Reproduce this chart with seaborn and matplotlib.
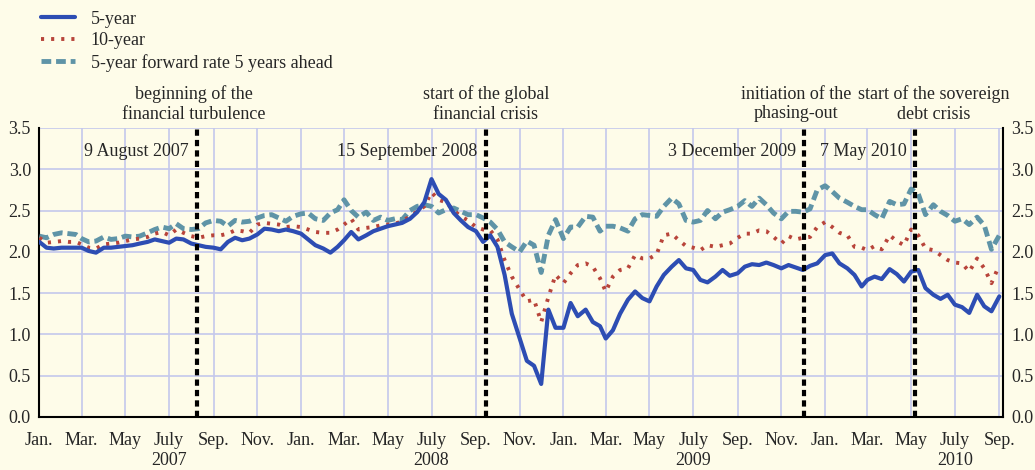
import pandas as pd
import matplotlib.pyplot as plt
import matplotlib.dates as mdates
import seaborn as sns


# Tarihler: her ayın 1., 11. ve 21. günü (Ocak 2007 - Eylül 2010)
days = [pd.Timestamp(y, m, d) for y in range(2007, 2011) for m in range(1, 13) for d in (1, 11, 21)]
dates = [t for t in days if t <= pd.Timestamp('2010-09-01')]

# 5 yıllık getiri
five_year = [2.12, 2.05, 2.04, 2.05, 2.05, 2.05, 2.05, 2.01, 1.99, 2.05, 2.05, 2.06,
             2.07, 2.08, 2.10, 2.12, 2.15, 2.13, 2.11, 2.16, 2.15, 2.10, 2.08, 2.06,
             2.05, 2.03, 2.12, 2.17, 2.14, 2.16, 2.21, 2.28, 2.27, 2.25, 2.27, 2.25,
             2.22, 2.15, 2.08, 2.04, 1.99, 2.06, 2.14, 2.24, 2.15, 2.20, 2.25, 2.28,
             2.31, 2.33, 2.35, 2.40, 2.48, 2.60, 2.88, 2.70, 2.63, 2.47, 2.38, 2.30,
             2.25, 2.12, 2.20, 2.06, 1.72, 1.25, 0.95, 0.68, 0.62, 0.40, 1.30, 1.08,
             1.08, 1.38, 1.22, 1.30, 1.15, 1.10, 0.95, 1.05, 1.25, 1.42, 1.52, 1.44,
             1.40, 1.58, 1.72, 1.82, 1.90, 1.80, 1.78, 1.66, 1.63, 1.70, 1.78, 1.71,
             1.74, 1.82, 1.85, 1.84, 1.87, 1.84, 1.80, 1.84, 1.81, 1.78, 1.83, 1.86,
             1.96, 1.98, 1.86, 1.80, 1.72, 1.58, 1.66, 1.70, 1.67, 1.79, 1.73, 1.64,
             1.76, 1.78, 1.56, 1.48, 1.43, 1.48, 1.36, 1.33, 1.26, 1.48, 1.34, 1.28,
             1.46]

# 10 yıllık getiri
ten_year = [2.17, 2.11, 2.12, 2.13, 2.12, 2.12, 2.09, 2.05, 2.04, 2.09, 2.10, 2.11,
            2.13, 2.15, 2.16, 2.18, 2.22, 2.24, 2.20, 2.27, 2.23, 2.19, 2.17, 2.19,
            2.20, 2.20, 2.22, 2.26, 2.25, 2.23, 2.33, 2.35, 2.34, 2.33, 2.30, 2.31,
            2.30, 2.27, 2.24, 2.23, 2.23, 2.27, 2.33, 2.40, 2.27, 2.29, 2.30, 2.32,
            2.33, 2.34, 2.37, 2.43, 2.49, 2.55, 2.72, 2.63, 2.60, 2.50, 2.43, 2.38,
            2.30, 2.27, 2.26, 2.15, 1.90, 1.70, 1.54, 1.40, 1.42, 1.15, 1.45, 1.72,
            1.62, 1.74, 1.84, 1.86, 1.82, 1.68, 1.52, 1.70, 1.78, 1.80, 1.96, 1.92,
            1.92, 1.97, 2.20, 2.22, 2.14, 2.07, 2.05, 2.02, 2.08, 2.06, 2.08, 2.10,
            2.17, 2.22, 2.22, 2.26, 2.25, 2.18, 2.10, 2.19, 2.15, 2.17, 2.18, 2.30,
            2.36, 2.30, 2.23, 2.20, 2.06, 2.05, 2.02, 2.07, 2.03, 2.20, 2.13, 2.08,
            2.27, 2.20, 2.04, 2.02, 1.96, 1.90, 1.87, 1.86, 1.76, 1.92, 1.80, 1.62,
            1.84]

# 5 yıl sonrası için 5 yıllık forward faiz
forward = [2.19, 2.17, 2.21, 2.23, 2.22, 2.21, 2.16, 2.12, 2.13, 2.18, 2.15, 2.16,
           2.19, 2.18, 2.19, 2.23, 2.27, 2.30, 2.28, 2.34, 2.28, 2.27, 2.28, 2.35,
           2.38, 2.37, 2.31, 2.38, 2.36, 2.37, 2.41, 2.44, 2.45, 2.41, 2.37, 2.43,
           2.46, 2.47, 2.40, 2.38, 2.47, 2.51, 2.63, 2.50, 2.42, 2.48, 2.38, 2.42,
           2.38, 2.40, 2.39, 2.50, 2.55, 2.57, 2.55, 2.47, 2.51, 2.53, 2.49, 2.45,
           2.45, 2.41, 2.36, 2.27, 2.12, 2.06, 2.00, 2.13, 2.08, 1.75, 2.20, 2.39,
           2.16, 2.30, 2.30, 2.43, 2.42, 2.25, 2.31, 2.31, 2.29, 2.25, 2.40, 2.45,
           2.44, 2.43, 2.55, 2.65, 2.58, 2.38, 2.36, 2.38, 2.50, 2.40, 2.48, 2.51,
           2.55, 2.62, 2.55, 2.65, 2.57, 2.47, 2.40, 2.49, 2.49, 2.48, 2.52, 2.75,
           2.80, 2.73, 2.65, 2.60, 2.55, 2.51, 2.51, 2.45, 2.40, 2.61, 2.57, 2.58,
           2.76, 2.70, 2.45, 2.57, 2.49, 2.44, 2.37, 2.40, 2.33, 2.42, 2.32, 2.03,
           2.20]

# Olaylar ve etiketleri
event_dates = ['2007-08-09', '2008-09-15', '2009-12-03', '2010-05-07']
event_labels = ['9 August 2007', '15 September 2008', '3 December 2009', '7 May 2010']
event_titles = ['beginning of the\nfinancial turbulence', 'start of the global\nfinancial crisis',
                'initiation of the\nphasing-out', 'start of the sovereign\ndebt crisis']
title_dates = ['2007-08-04', '2008-09-15', '2009-11-21', '2010-06-02']

month_names = {1: 'Jan.', 3: 'Mar.', 5: 'May', 7: 'July', 9: 'Sep.', 11: 'Nov.'}
years = [2007, 2008, 2009, 2010]

bg = '#fefce9'
grid_color = '#c4c8ec'

sns.set_style('white')
plt.rcParams['font.family'] = ['Liberation Serif', 'DejaVu Serif']
plt.rcParams['font.size'] = 13

# Grafik
fig = plt.figure(figsize=(10.35, 4.7), facecolor=bg)
ax = fig.add_axes([0.038, 0.1128, 0.931, 0.615], facecolor=bg)

sns.lineplot(x=dates, y=forward, color='#5f94a7', linewidth=3.5, linestyle=(0, (2, 1)),
             label='5-year forward rate 5 years ahead', ax=ax, zorder=3)
sns.lineplot(x=dates, y=ten_year, color='#b8443a', linewidth=2.8, linestyle=(0, (0.8, 1.8)),
             label='10-year', ax=ax, zorder=4)
sns.lineplot(x=dates, y=five_year, color='#2d4db3', linewidth=3,
             label='5-year', ax=ax, zorder=5)

# Olay çizgileri
for d, lab, ttl, td in zip(event_dates, event_labels, event_titles, title_dates):
    plt.axvline(pd.Timestamp(d), color='black', linewidth=3, linestyle=(0, (1.5, 1)), zorder=6)
    plt.annotate(lab, xy=(pd.Timestamp(d), 0.917), xycoords=('data', 'axes fraction'),
                 xytext=(-6, 0), textcoords='offset points', ha='right', va='center')
    plt.annotate(ttl, xy=(pd.Timestamp(td), 1.083), xycoords=('data', 'axes fraction'),
                 ha='center', va='center', linespacing=1.2, annotation_clip=False)

# Eksenler
plt.xlim(pd.Timestamp('2007-01-01'), pd.Timestamp('2010-09-06'))
plt.ylim(0, 3.5)
plt.yticks([0, 0.5, 1, 1.5, 2, 2.5, 3, 3.5], ['0.0', '0.5', '1.0', '1.5', '2.0', '2.5', '3.0', '3.5'])
ax.xaxis.set_major_locator(mdates.MonthLocator(bymonth=1))
ax.xaxis.set_minor_locator(mdates.MonthLocator(bymonth=[3, 5, 7, 9, 11]))
fmt = plt.FuncFormatter(lambda v, p: month_names[mdates.num2date(v).month])
ax.xaxis.set_major_formatter(fmt)
ax.xaxis.set_minor_formatter(fmt)
ax.tick_params(axis='x', which='major', length=7, width=1.2, pad=4, labelsize=13)
ax.tick_params(axis='x', which='minor', length=3, width=1.2, pad=8, labelsize=13)
ax.tick_params(axis='y', length=0, pad=6, labelsize=13, labelright=True)
ax.grid(axis='x', which='both', color=grid_color, linewidth=1.2)
ax.grid(axis='y', which='major', color=grid_color, linewidth=1.2)
ax.set_axisbelow(True)
for s in ['left', 'right', 'bottom']:
    ax.spines[s].set_color('black')
    ax.spines[s].set_linewidth(1.5)
ax.spines['top'].set_visible(False)

for y in years:
    plt.annotate(str(y), xy=(pd.Timestamp(y, 7, 1), -0.149), xycoords=('data', 'axes fraction'),
                 ha='center', va='center', annotation_clip=False)

# Lejant
handles, labels = ax.get_legend_handles_labels()
ax.get_legend().remove()
fig.legend(handles[::-1], labels[::-1], loc='upper left', bbox_to_anchor=(0.024, 1.012),
           frameon=False, fontsize=13, labelspacing=0.25, handlelength=1.9, handletextpad=0.85)

plt.savefig('out.png', dpi=100, facecolor=bg)
